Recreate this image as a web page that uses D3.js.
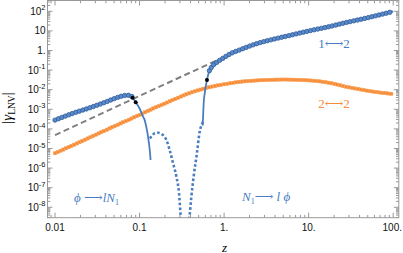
<!DOCTYPE html>
<html>
<head>
<meta charset="utf-8">
<script src="https://cdn.jsdelivr.net/npm/d3@7"></script>
<style>
  html, body { margin: 0; padding: 0; background: #fff; }
  svg { display: block; }
  .tick-label { font-family: "Liberation Sans", Arial, sans-serif; font-size: 10px; fill: #111; }
  .serif { font-family: "Liberation Serif", "DejaVu Serif", serif; }
</style>
</head>
<body>
<svg id="chart" width="403" height="253"></svg>
<script>
/*  |gamma_LNV| against z, log-log.
    Values.
 */

// blue 1<->2, exact points (markers), low-z part
const blueLowZ = [0.01, 0.0164, 0.0259, 0.0407, 0.052, 0.064, 0.072, 0.078, 0.083];
const blueLowV = [2.8e-4, 6.3e-4, 1.2e-3, 2.44e-3, 3.7e-3, 4.9e-3, 5.2e-3, 4.9e-3, 4.2e-3];

// blue 1<->2, exact points (markers), high-z part
const blueHighZ = [0.67, 0.726, 0.81, 0.968, 1.216, 1.52, 2.4, 3.77, 5.9, 10, 17.4, 28, 43, 70, 100];
const blueHighV = [0.093, 0.162, 0.24, 0.40, 0.72, 1.06, 2.2, 3.7, 5.8, 9.9, 16.4, 27, 40.5, 67, 98];

// blue solid curve (positive branch), left drop
const solidLeftZ = [0.064, 0.072, 0.0825, 0.090, 0.1, 0.11, 0.115, 0.12, 0.126, 0.132, 0.135];
const solidLeftV = [4.9e-3, 5.2e-3, 3.9e-3, 2.3e-3, 1.1e-3, 4.2e-4, 2.8e-4, 1.3e-4, 4e-5, 8.4e-6, 2.6e-6];

// blue solid curve, right rise
const solidRightZ = [0.558, 0.565, 0.575, 0.588, 0.60, 0.627, 0.663, 0.70];
const solidRightV = [1.5e-4, 5e-4, 2.5e-3, 6e-3, 1.1e-2, 0.031, 0.083, 0.14];

// blue dotted curve (negative branch, absolute value)
const dottedZ = [0.132, 0.138, 0.151, 0.166, 0.182, 0.208, 0.227, 0.249, 0.273, 0.293, 0.307, 0.35,
                 0.39, 0.41, 0.436, 0.477, 0.514, 0.553, 0.562];
const dottedV = [3.3e-5, 4e-5, 6e-5, 6.4e-5, 5.5e-5, 2.7e-5, 8.4e-6, 1.76e-6, 3.6e-7, 5.2e-8, 3.3e-9, 1e-10,
                 3.3e-9, 3.5e-8, 3.6e-7, 5.7e-6, 7.2e-5, 1.9e-4, 2.3e-4];

// black dots on the solid curve
const dotZ = [0.0825, 0.090, 0.627];
const dotV = [3.9e-3, 2.3e-3, 0.031];

// grey dashed asymptote
const dashZ = [0.01, 0.1, 0.8];
const dashV = [4.8e-5, 4.8e-3, 0.30];

// orange 2<->2
const orangeZ = [0.01, 0.02, 0.05, 0.1, 0.145, 0.2, 0.358, 0.5, 0.7, 1.16, 1.5, 2, 3, 5, 7, 11, 15, 20, 27, 40, 60, 100];
const orangeV = [5.7e-6, 2.2e-5, 1.35e-4, 5.2e-4, 1.1e-3, 2.0e-3, 5.8e-3, 9.5e-3, 0.014, 0.021, 0.025, 0.028,
                 0.031, 0.033, 0.032, 0.029, 0.025, 0.02, 0.0145, 0.0105, 0.0078, 0.006];

// tick labels
const xTickValues = [0.01, 0.1, 1, 10, 100];
const xTickLabels = ["0.01", "0.1", "1.", "10.", "100."];
const yTickExponents = [2, 1, 0, -1, -2, -3, -4, -5, -6, -7, -8];

// ---------------------------  LAYOUT  ---------------------------
const W = 403, H = 253;
const plot = { left: 47.5, right: 398.8, top: 0.5, bottom: 217.7 };

const x = d3.scaleLog().domain([0.00815, 116.5]).range([plot.left, plot.right]);
const y = d3.scaleLog().domain([2.94e-9, 355.6]).range([plot.bottom, plot.top]);

const BLUE = "#4a7dbf", BLUE_DARK = "#2f5c99", ORANGE = "#f68a35", GREY = "#808080", FRAME = "#999";

const svg = d3.select("#chart");

svg.append("defs").append("clipPath").attr("id", "clip")
   .append("rect")
   .attr("x", plot.left).attr("y", plot.top)
   .attr("width", plot.right - plot.left).attr("height", plot.bottom - plot.top);

function pairs(zs, vs) { return zs.map((z, i) => [z, vs[i]]); }

const line = d3.line()
    .x(d => x(d[0]))
    .y(d => y(d[1]))
    .curve(d3.curveMonotoneX);

function pointsAlong(pathNode, step)
// evenly spaced points along a drawn path (used for marker decoration)
{
    const len = pathNode.getTotalLength();
    const pts = [];
    for (let s = 0; s <= len + 0.01; s += step) pts.push(pathNode.getPointAtLength(Math.min(s, len)));
    return pts;
}

const curves = svg.append("g").attr("clip-path", "url(#clip)");

// ---------------------------  FRAME + TICKS  ---------------------------
const frame = svg.append("g");
frame.append("rect")
    .attr("x", plot.left).attr("y", plot.top)
    .attr("width", plot.right - plot.left).attr("height", plot.bottom - plot.top)
    .attr("fill", "none").attr("stroke", FRAME).attr("stroke-width", 1);

// x minor/major ticks
const xMinor = [];
for (let e = -3; e <= 2; e++) for (let m = 1; m <= 9; m++) {
    const v = m * Math.pow(10, e);
    if (v >= x.domain()[0] && v <= x.domain()[1]) xMinor.push({ v, major: m === 1 });
}
xMinor.forEach(t => {
    const len = t.major ? 5 : 2.8, px = x(t.v);
    frame.append("line").attr("x1", px).attr("x2", px).attr("y1", plot.bottom).attr("y2", plot.bottom - len)
        .attr("stroke", FRAME).attr("stroke-width", 1);
    frame.append("line").attr("x1", px).attr("x2", px).attr("y1", plot.top).attr("y2", plot.top + len)
        .attr("stroke", FRAME).attr("stroke-width", 1);
});

const yMinor = [];
for (let e = -9; e <= 2; e++) for (let m = 1; m <= 9; m++) {
    const v = m * Math.pow(10, e);
    if (v >= y.domain()[0] && v <= y.domain()[1]) yMinor.push({ v, major: m === 1 });
}
yMinor.forEach(t => {
    const len = t.major ? 5 : 2.8, py = y(t.v);
    frame.append("line").attr("x1", plot.left).attr("x2", plot.left + len).attr("y1", py).attr("y2", py)
        .attr("stroke", FRAME).attr("stroke-width", 1);
    frame.append("line").attr("x1", plot.right).attr("x2", plot.right - len).attr("y1", py).attr("y2", py)
        .attr("stroke", FRAME).attr("stroke-width", 1);
});

// x tick labels (last one kept inside the picture)
xTickValues.forEach((v, i) => {
    const last = i === xTickValues.length - 1;
    svg.append("text").attr("class", "tick-label")
        .attr("x", last ? 402 : x(v)).attr("y", 230.5)
        .attr("text-anchor", last ? "end" : "middle")
        .text(xTickLabels[i]);
});

// y tick labels
yTickExponents.forEach(e => {
    const t = svg.append("text").attr("class", "tick-label")
        .attr("x", 45.5).attr("y", y(Math.pow(10, e)) + 3.6).attr("text-anchor", "end");
    if (e === 0) { t.text("1."); return; }
    t.append("tspan").text("10");
    if (e !== 1) t.append("tspan").attr("dy", -4.5).attr("font-size", "7.5px").text(e < 0 ? "-" + (-e) : e);
});

// ---------------------------  CURVES  ---------------------------
curves.append("path").attr("d", line(pairs(dashZ, dashV)))
    .attr("fill", "none").attr("stroke", GREY).attr("stroke-width", 2).attr("stroke-dasharray", "6,3.5");

const orangePath = curves.append("path").attr("d", line(pairs(orangeZ, orangeV)))
    .attr("fill", "none").attr("stroke", ORANGE).attr("stroke-width", 3);
curves.append("g").selectAll("rect")
    .data(pointsAlong(orangePath.node(), 3))
    .join("rect")
    .attr("x", d => d.x - 1.6).attr("y", d => d.y - 1.6).attr("width", 3.2).attr("height", 3.2)
    .attr("fill", ORANGE).attr("stroke", "#fbb070").attr("stroke-width", 0.5);

curves.append("path").attr("d", line(pairs(dottedZ, dottedV)))
    .attr("fill", "none").attr("stroke", BLUE).attr("stroke-width", 2.6)
    .attr("stroke-dasharray", "2.6,2.2");

curves.append("path").attr("d", line(pairs(solidLeftZ, solidLeftV)))
    .attr("fill", "none").attr("stroke", BLUE).attr("stroke-width", 1.8);
curves.append("path").attr("d", line(pairs(solidRightZ, solidRightV)))
    .attr("fill", "none").attr("stroke", BLUE).attr("stroke-width", 1.8);

[pairs(blueLowZ, blueLowV), pairs(blueHighZ, blueHighV)].forEach(seg => {
    const p = curves.append("path").attr("d", line(seg))
        .attr("fill", "none").attr("stroke", BLUE).attr("stroke-width", 1.8);
    curves.append("g").selectAll("circle")
        .data(pointsAlong(p.node(), 3.7))
        .join("circle")
        .attr("cx", d => d.x).attr("cy", d => d.y).attr("r", 2.2)
        .attr("fill", "#5b8acb").attr("stroke", BLUE_DARK).attr("stroke-width", 0.8);
});

curves.append("g").selectAll("circle")
    .data(pairs(dotZ, dotV))
    .join("circle")
    .attr("cx", d => x(d[0])).attr("cy", d => y(d[1])).attr("r", 2)
    .attr("fill", "#000");

// ---------------------------  LABELS  ---------------------------
svg.append("text").attr("class", "serif")
    .attr("x", 224.5).attr("y", 251.5).attr("text-anchor", "middle")
    .attr("font-style", "italic").attr("font-size", "13px").text("z");

const yl = svg.append("text").attr("class", "serif")
    .attr("transform", "translate(12,108) rotate(-90)").attr("text-anchor", "middle")
    .attr("font-size", "15px");
yl.append("tspan").text("|");
yl.append("tspan").attr("font-style", "italic").text("γ");
yl.append("tspan").attr("font-size", "9.5px").attr("dy", 3).text("LNV");
yl.append("tspan").attr("dy", -3).text("|");

svg.append("text").attr("class", "serif")
    .attr("x", 334).attr("y", 47.5).attr("text-anchor", "middle")
    .attr("font-size", "13px").attr("fill", BLUE).text("1⟷2");
svg.append("text").attr("class", "serif")
    .attr("x", 334).attr("y", 107.5).attr("text-anchor", "middle")
    .attr("font-size", "13px").attr("fill", ORANGE).text("2⟷2");

const a1 = svg.append("text").attr("class", "serif")
    .attr("x", 74).attr("y", 202).attr("font-size", "13px").attr("fill", BLUE).attr("font-style", "italic");
a1.append("tspan").text("ϕ ⟶");
a1.append("tspan").text("lN");
a1.append("tspan").attr("font-size", "8px").attr("dy", 2.5).attr("font-style", "normal").text("1");

const a2 = svg.append("text").attr("class", "serif")
    .attr("x", 242).attr("y", 201).attr("font-size", "13px").attr("fill", BLUE).attr("font-style", "italic");
a2.append("tspan").text("N");
a2.append("tspan").attr("font-size", "8px").attr("dy", 2.5).attr("font-style", "normal").text("1");
a2.append("tspan").attr("dy", -2.5).text("⟶ l ϕ");
</script>
</body>
</html>
